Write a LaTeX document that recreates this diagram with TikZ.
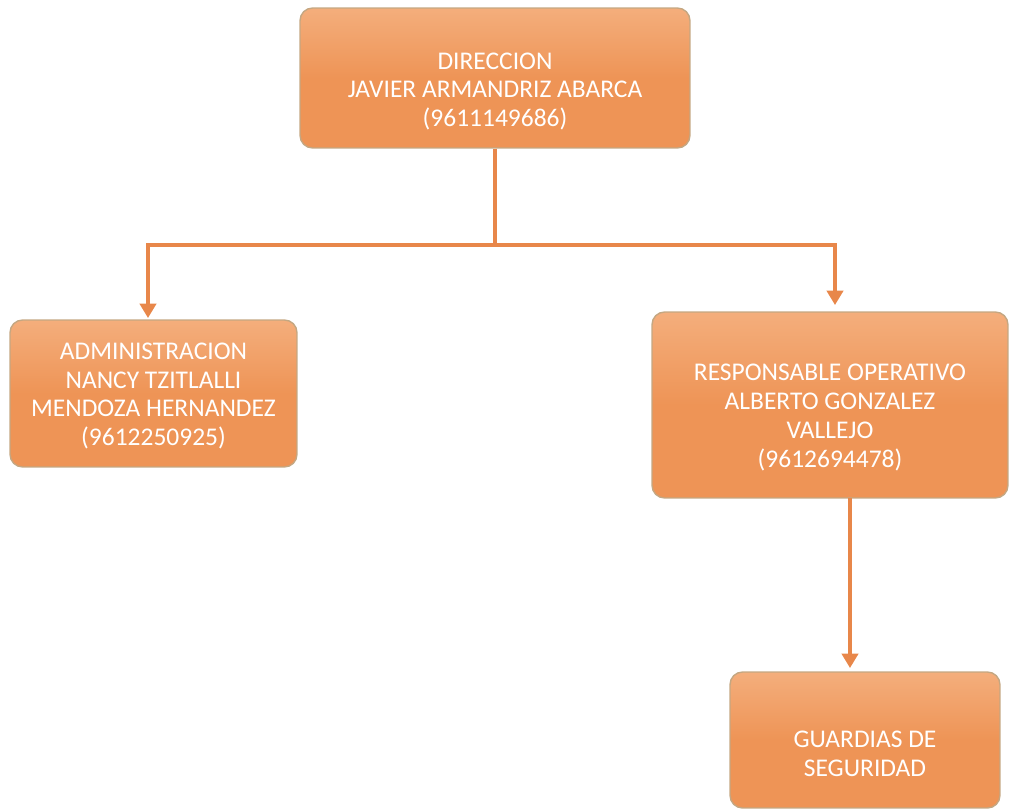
\documentclass[tikz,border=0pt]{standalone}
\usepackage{fontspec}
\setmainfont{Carlito}
\usepackage{xcolor}
\usepackage{tikz}
\usetikzlibrary{positioning,arrows.meta}
\definecolor{boxorange}{HTML}{EE9456}
\definecolor{boxlight}{HTML}{F4AE7C}
\definecolor{boxedge}{HTML}{C4A782}
\definecolor{lineorange}{HTML}{E8874A}

\begin{document}
\begin{tikzpicture}[
  x=0.02cm, y=-0.02cm,
  unit/.style={draw=boxedge, line width=0.8pt, rounded corners=2.5mm, top color=boxlight, bottom color=boxorange, middle color=boxorange, inner sep=0pt},
  caption/.style={text=white, align=center, font=\fontsize{14.5}{16.4}\selectfont, inner sep=0pt, yshift=-#1},
  caption/.default=0.27cm,
  link/.style={draw=lineorange, line width=1.8pt},
  arr/.style={link, -{Triangle[length=2.9mm, width=3.3mm]}}]
  \useasboundingbox (0,0) rectangle (1011,811);
  \node[unit, minimum width=7.8cm, minimum height=2.8cm, label={[caption]center:DIRECCION\\ JAVIER ARMANDRIZ ABARCA\\ (9611149686)}] (dir) at (495,78) {};
  \node[unit, minimum width=5.74cm, minimum height=2.94cm, label={[caption=0.05cm]center:ADMINISTRACION\\ NANCY TZITLALLI\\ MENDOZA HERNANDEZ\\ (9612250925)}] (admin) at (153.5,393.5) {};
  \node[unit, minimum width=7.12cm, minimum height=3.72cm, label={[caption=0.25cm]center:RESPONSABLE OPERATIVO\\ ALBERTO GONZALEZ\\ VALLEJO\\ (9612694478)}] (oper) at (830,405) {};
  \node[unit, minimum width=5.4cm, minimum height=2.72cm, label={[caption]center:GUARDIAS DE\\ SEGURIDAD}] (guard) at (865,740) {};
  % connectors
  \coordinate (split) at (495,245);
  \coordinate (splitl) at (148,245);
  \coordinate (splitr) at (835,245);
  \coordinate (adminin) at (148,318);
  \coordinate (operin) at (835,305);
  \coordinate (operout) at (850,498);
  \coordinate (guardin) at (850,668);
  \draw[link] (dir.south) -- (split);
  \draw[link, line cap=rect] (splitl) -- (splitr);
  \draw[arr] (splitl) -- (adminin);
  \draw[arr] (splitr) -- (operin);
  \draw[arr] (operout) -- (guardin);
\end{tikzpicture}
\end{document}
